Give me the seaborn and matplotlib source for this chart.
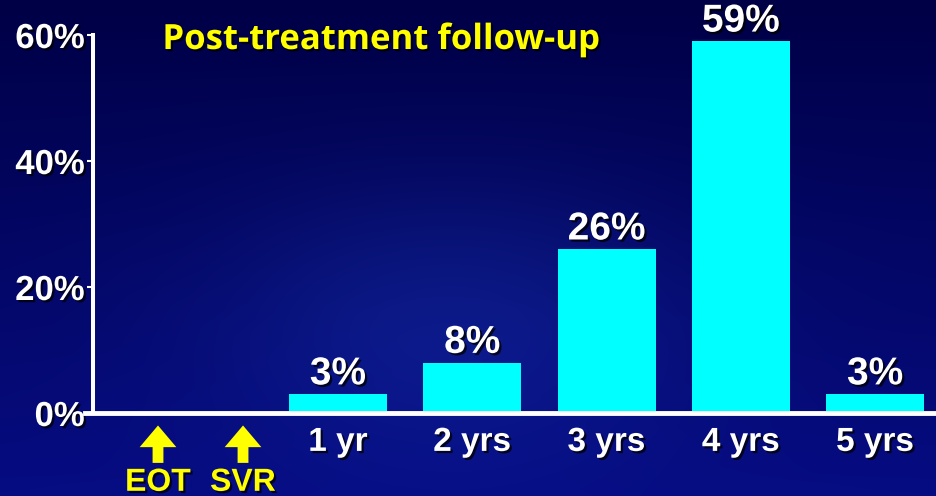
import numpy as np
import matplotlib
matplotlib.use("Agg")
import matplotlib.pyplot as plt
import matplotlib.patheffects as pe
import seaborn as sns

# Data
categories = ["1 yr", "2 yrs", "3 yrs", "4 yrs", "5 yrs"]
values = [3, 8, 26, 59, 3]
value_labels = ["3%", "8%", "26%", "59%", "3%"]
y_ticks = [0, 20, 40, 60]
y_tick_labels = ["0%", "20%", "40%", "60%"]
markers = ["EOT", "SVR"]
title = "Post-treatment follow-up"

sns.set_theme(style="white")
plt.rcParams["font.family"] = ["Liberation Sans", "DejaVu Sans"]

W, H, DPI = 936, 496, 100
fig = plt.figure(figsize=(W / DPI, H / DPI), dpi=DPI)

# Dark blue backdrop with a soft lighter glow in the lower middle
bg = fig.add_axes([0, 0, 1, 1], zorder=-10)
yy, xx = np.mgrid[0:H, 0:W]
t = yy / H
r = 0.0 + 6 * t
g = 0.0 + 12 * t
b = 70 + 60 * t
glow = np.exp(-(((xx - 450) / 240.0) ** 2 + ((yy - 320) / 140.0) ** 2))
r = r + 8 * glow
g = g + 18 * glow
b = b + 28 * glow
img = np.dstack([r, g, b]) / 255.0
bg.imshow(np.clip(img, 0, 1), aspect="auto", extent=[0, 1, 0, 1], origin="upper")
bg.axis("off")

ax = fig.add_axes([93 / W, 1 - 413 / H, 1 - 93 / W, (413 - 35) / H])
ax.set_facecolor("none")

sns.barplot(x=categories, y=values, color="#00ffff", saturation=1,
            width=0.73, ax=ax, zorder=3, linewidth=0, edgecolor="none")

ax.set_xlim(-1.824, 4.453)
ax.set_ylim(0, 60)

shadow = [pe.withSimplePatchShadow(offset=(1.6, -1.6), shadow_rgbFace="black", alpha=0.75)]

ax.set_yticks(y_ticks)
ax.set_yticklabels(y_tick_labels)
ax.tick_params(axis="y", colors="white", length=4, width=1.5, pad=2,
               labelsize=25, left=True)
ax.tick_params(axis="x", length=0, pad=10, labelsize=24, labelcolor="white")
for lab in ax.get_yticklabels() + ax.get_xticklabels():
    lab.set_fontweight("bold")
    lab.set_path_effects(shadow)
ax.set_xlabel("")
ax.set_ylabel("")

for side in ["top", "right"]:
    ax.spines[side].set_visible(False)
ax.spines["left"].set_color("white")
ax.spines["left"].set_linewidth(2.9)
ax.spines["bottom"].set_color("white")
ax.spines["bottom"].set_linewidth(3.5)
ax.spines["bottom"].set_bounds(-1.88, 4.453)
ax.spines["bottom"].set_zorder(4)

# Value labels above the bars
for i, (v, lab) in enumerate(zip(values, value_labels)):
    ax.annotate(lab, xy=(i, v), xytext=(0, 7), textcoords="offset points",
                ha="center", va="baseline", color="white", fontsize=28,
                fontweight="bold", path_effects=shadow, annotation_clip=False)

# Arrows marking end of treatment and sustained response
trans = ax.get_xaxis_transform()
for xpos, name in zip([-1.34, -0.707], markers):
    ax.annotate("", xy=(xpos, -0.033), xytext=(xpos, -0.132),
                xycoords=trans, textcoords=trans,
                arrowprops=dict(arrowstyle="simple,head_length=1.3,head_width=2.2,tail_width=0.65",
                                color="#ffff00", lw=0, shrinkA=0, shrinkB=0))
    ax.text(xpos, -0.145, name, transform=trans, ha="center", va="top",
            color="#ffff00", fontsize=23, fontweight="bold", path_effects=shadow)

fig.text(381 / W, 1 - 40 / H, title, ha="center", va="center", color="#ffff00",
         fontsize=25, fontweight="bold", family=["Open Sans", "DejaVu Sans"],
         path_effects=shadow)

fig.savefig("out.png", dpi=DPI)
